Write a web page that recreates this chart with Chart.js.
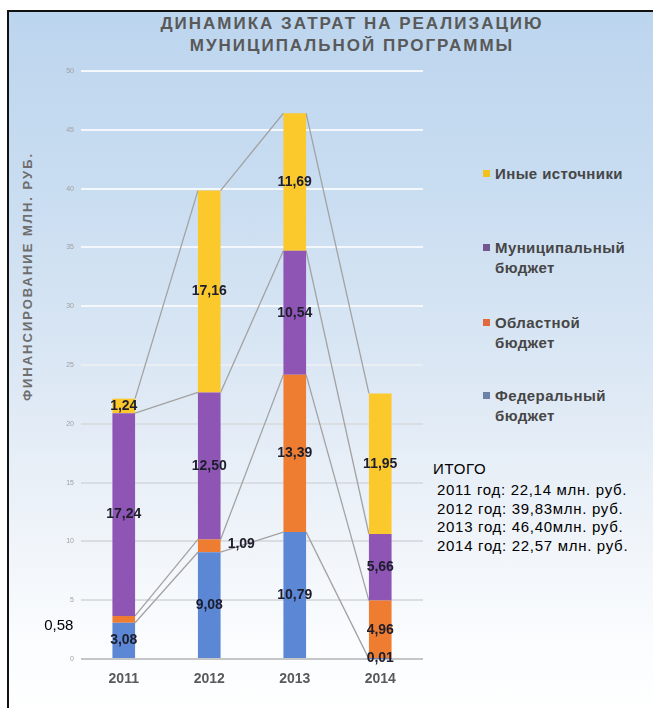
<!DOCTYPE html>
<html lang="ru">

<head>
    <meta charset="UTF-8">
    <title>Динамика затрат</title>
    <script src="https://cdn.jsdelivr.net/npm/chart.js"></script>
    <style>
        body { margin: 0; width: 653px; height: 708px; overflow: hidden; background: #fff; font-family: "Liberation Sans", Arial, sans-serif; }
        #frame {
            position: absolute; left: 7px; top: 10px; width: 660px; height: 710px;
            border-left: 2px solid #111; border-top: 2px solid #111;
            background: linear-gradient(to bottom, #bcd5ee 0%, #c9ddf1 25%, #dbe7f4 50%, #eef3f9 72%, #fafcfe 88%, #ffffff 100%);
        }
        #chart { position: absolute; left: 0; top: 0; }
        .title { position: absolute; left: 102px; width: 500px; text-align: center; font-weight: bold; font-size: 17px; color: #595959; letter-spacing: 2px; line-height: 22px; top: 13px; }
        .ytitle { position: absolute; left: -123px; top: 269px; width: 300px; text-align: center; font-weight: bold; font-size: 13px; color: #6e6e6e; letter-spacing: 2px; transform: rotate(-90deg); }
        .leg { position: absolute; left: 495px; font-size: 15px; font-weight: bold; color: #464646; letter-spacing: 0.4px; line-height: 20px; }
        .leg i { position: absolute; left: -12px; top: 6px; width: 7px; height: 7px; }
        .totals { position: absolute; left: 433px; top: 460px; font-size: 15px; color: #000; line-height: 18.8px; letter-spacing: 0.7px; }
        .totals div { padding-left: 4px; }
        .totals div:first-child { margin-top: 2px; }
    </style>
</head>

<body>
    <div id="frame"></div>
    <div class="title">ДИНАМИКА ЗАТРАТ НА РЕАЛИЗАЦИЮ<br>МУНИЦИПАЛЬНОЙ ПРОГРАММЫ</div>
    <div class="ytitle">ФИНАНСИРОВАНИЕ МЛН. РУБ.</div>
    <div id="legend"></div>
    <div class="totals" id="totals"></div>
    <canvas id="chart" width="653" height="708"></canvas>

    <script>
        // данные
        const years = ['2011', '2012', '2013', '2014'];
        const federal = [3.08, 9.08, 10.79, 0.01];
        const oblast = [0.58, 1.09, 13.39, 4.96];
        const municipal = [17.24, 12.50, 10.54, 5.66];
        const other = [1.24, 17.16, 11.69, 11.95];
        const seriesNames = [['Федеральный', 'бюджет'], ['Областной', 'бюджет'], ['Муниципальный', 'бюджет'], ['Иные источники']];
        const totals = ['22,14 млн. руб.', '39,83млн. руб.', '46,40млн. руб.', '22,57 млн. руб.'];
        const yTicks = [0, 5, 10, 15, 20, 25, 30, 35, 40, 45, 50];

        const barColors = ['#5b87d5', '#ef7d31', '#8e55b5', '#fbc92c'];
        const legendColors = ['#6a82a6', '#e2693c', '#73588f', '#f2c21a'];

        // легенда (сверху вниз - обратный порядок)
        const legendTops = [386, 313, 238, 164];
        const legendEl = document.getElementById('legend');
        seriesNames.forEach((name, i) => {
            const d = document.createElement('div');
            d.className = 'leg';
            d.style.top = legendTops[i] + 'px';
            d.innerHTML = `<i style="background:${legendColors[i]}"></i>` + name.join('<br>');
            legendEl.appendChild(d);
        });

        const totalsEl = document.getElementById('totals');
        totalsEl.innerHTML = 'ИТОГО' + years.map((y, i) => `<div>${y} год: ${totals[i]}</div>`).join('');

        // серийные линии между столбцами
        const seriesLines = {
            id: 'seriesLines',
            beforeDatasetsDraw(chart) {
                const ctx = chart.ctx;
                ctx.save();
                ctx.strokeStyle = '#a2a2a2';
                ctx.lineWidth = 1.3;
                chart.data.datasets.forEach((ds, di) => {
                    const bars = chart.getDatasetMeta(di).data;
                    for (let i = 0; i < bars.length - 1; i++) {
                        const a = bars[i], b = bars[i + 1];
                        ctx.beginPath();
                        ctx.moveTo(a.x + a.width / 2, a.y);
                        ctx.lineTo(b.x - b.width / 2, b.y);
                        ctx.stroke();
                    }
                });
                ctx.restore();
            }
        };

        // подписи значений
        const labelShift = { '1-0': { dx: -65, dy: 6, font: '15px "Liberation Sans"', color: '#000' }, '1-1': { dx: 32, dy: -2 } };
        const valueLabels = {
            id: 'valueLabels',
            afterDatasetsDraw(chart) {
                const ctx = chart.ctx;
                ctx.save();
                ctx.textAlign = 'center';
                ctx.textBaseline = 'middle';
                chart.data.datasets.forEach((ds, di) => {
                    chart.getDatasetMeta(di).data.forEach((bar, i) => {
                        const s = labelShift[di + '-' + i] || {};
                        ctx.font = s.font || 'bold 14px "Liberation Sans"';
                        ctx.fillStyle = s.color || '#1d1d2b';
                        const txt = ds.data[i].toFixed(2).replace('.', ',');
                        ctx.fillText(txt, bar.x + (s.dx || 0), (bar.y + bar.base) / 2 + (s.dy || 0));
                    });
                });
                ctx.restore();
            }
        };

        const dataSets = [federal, oblast, municipal, other].map((vals, i) => ({
            label: seriesNames[i].join(' '),
            data: vals,
            backgroundColor: barColors[i],
            borderWidth: 0,
            categoryPercentage: 1,
            barPercentage: 0.265
        }));

        const gridColor = (c) => {
            if (!c.tick) return '#e3e8ee';
            const v = c.tick.value;
            if (v === 0) return '#c4c6c8';
            if (v >= 30) return '#f4f7fb';
            if (v >= 25) return '#e8eef4';
            return '#dadee2';
        };

        new Chart(document.getElementById('chart'), {
            type: 'bar',
            data: { labels: years, datasets: dataSets },
            options: {
                responsive: false,
                animation: false,
                layout: { padding: { left: 51, right: 230, top: 71, bottom: 4 } },
                plugins: { legend: { display: false }, tooltip: { enabled: false } },
                scales: {
                    x: {
                        stacked: true,
                        grid: { display: false, drawTicks: false },
                        border: { display: false },
                        ticks: { padding: 12, color: '#5a5a5a', font: { family: 'Liberation Sans', size: 14, weight: 'bold' } },
                        afterFit: (s) => { s.height = 45; }
                    },
                    y: {
                        stacked: true,
                        min: 0,
                        max: 50,
                        afterBuildTicks: (s) => { s.ticks = yTicks.map(v => ({ value: v })); },
                        grid: {
                            drawTicks: false,
                            lineWidth: 2,
                            color: gridColor
                        },
                        border: { display: false },
                        ticks: { padding: 7, color: '#a0a0a0', font: { family: 'Liberation Sans', size: 7 } },
                        afterFit: (s) => { s.width = 30; }
                    }
                }
            },
            plugins: [seriesLines, valueLabels]
        });
    </script>
</body>

</html>
